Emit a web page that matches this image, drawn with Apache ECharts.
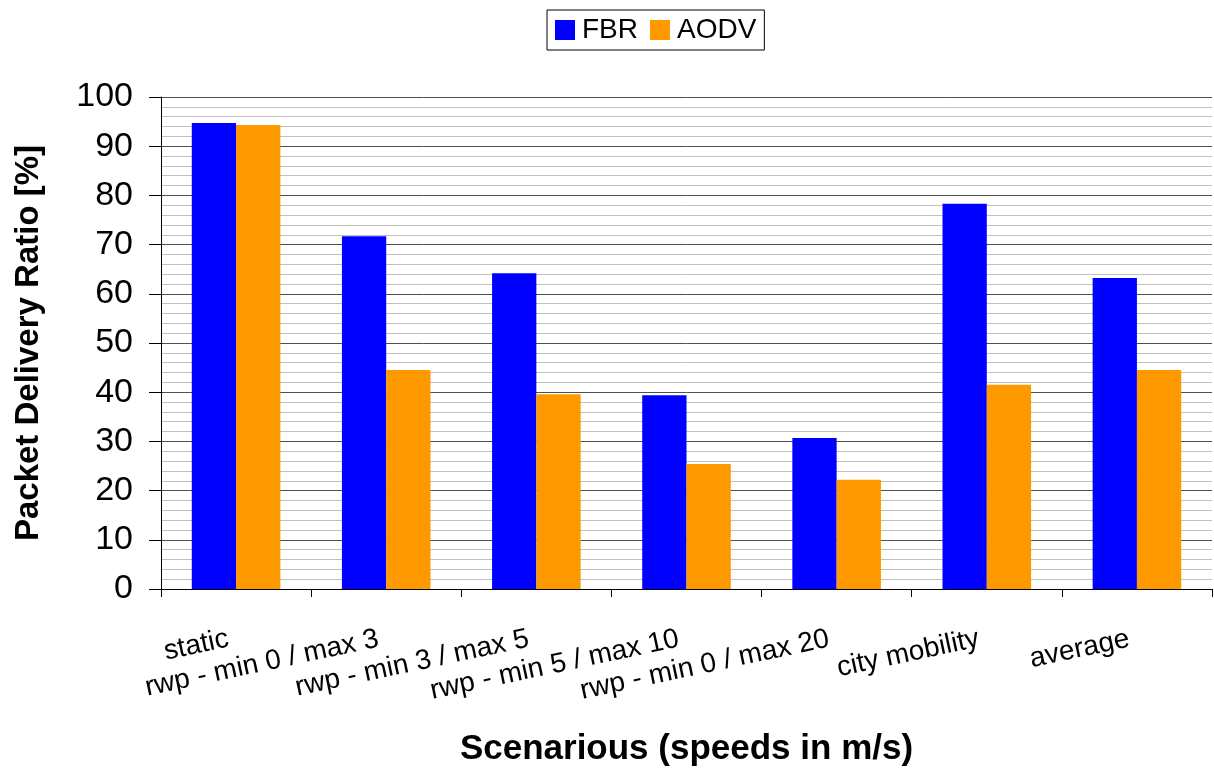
<!DOCTYPE html>
<html><head><meta charset="utf-8">
<script src="https://cdn.jsdelivr.net/npm/echarts@6/dist/echarts.min.js"></script>
<style>html,body{margin:0;padding:0;background:#fff}#c{width:1214px;height:773px}</style>
</head><body><div id="c"></div>
<script>
const categories = ['static','rwp - min 0 / max 3','rwp - min 3 / max 5','rwp - min 5 / max 10','rwp - min 0 / max 20','city mobility','average'];
const fbr = [94.7, 71.7, 64.2, 39.4, 30.7, 78.3, 63.2];
const aodv = [94.3, 44.5, 39.6, 25.4, 22.2, 41.5, 44.5];
const yTicks = [0,10,20,30,40,50,60,70,80,90,100];

const chart = echarts.init(document.getElementById('c'));
const font = 'Liberation Sans, Arial, sans-serif';
chart.setOption({
  animation: false,
  textStyle: {fontFamily: font},
  legend: {
    top: 10, left: 547, itemWidth: 20, itemHeight: 20, itemGap: 12,
    icon: 'rect',
    borderColor: '#000', borderWidth: 1, padding: [6, 8, 6, 8], borderRadius: 0,
    textStyle: {fontSize: 28, color: '#000', fontFamily: font, padding: [0, 0, 0, 2]},
    data: ['FBR', 'AODV']
  },
  grid: {left: 161, right: 2, top: 97, bottom: 184},
  xAxis: {
    type: 'category', data: categories,
    axisLine: {lineStyle: {color: '#000', width: 1}},
    axisTick: {show: true, alignWithLabel: false, length: 8, lineStyle: {color: '#000'}},
    axisLabel: {rotate: 12, fontSize: 28, color: '#000', margin: 48, interval: 0, fontFamily: font, padding: [0, 8, 0, 0]},
    name: 'Scenarious (speeds in m/s)', nameLocation: 'middle', nameGap: 143,
    nameTextStyle: {fontSize: 35, fontWeight: 'bold', color: '#000', fontFamily: font}
  },
  yAxis: {
    type: 'value', min: 0, max: 100, interval: 10,
    axisLine: {show: true, lineStyle: {color: '#000'}},
    axisTick: {show: true, length: 12, lineStyle: {color: '#000'}},
    axisLabel: {fontSize: 34, color: '#000', margin: 28, fontFamily: font,
      formatter: v => yTicks.includes(v) ? String(v) : ''},
    splitLine: {show: true, lineStyle: {color: '#505050', width: 1}},
    minorTick: {show: false, splitNumber: 5},
    minorSplitLine: {show: true, lineStyle: {color: '#c0c0c0', width: 1}},
    name: 'Packet Delivery Ratio [%]', nameLocation: 'middle', nameGap: 116, nameRotate: 90,
    nameTextStyle: {fontSize: 33, fontWeight: 'bold', color: '#000', fontFamily: font}
  },
  series: [
    {name: 'FBR', type: 'bar', data: fbr, itemStyle: {color: '#0000ff'}, barGap: '0%', barCategoryGap: '41%'},
    {name: 'AODV', type: 'bar', data: aodv, itemStyle: {color: '#ff9900'}, barGap: '0%', barCategoryGap: '41%'}
  ]
});
</script></body></html>
